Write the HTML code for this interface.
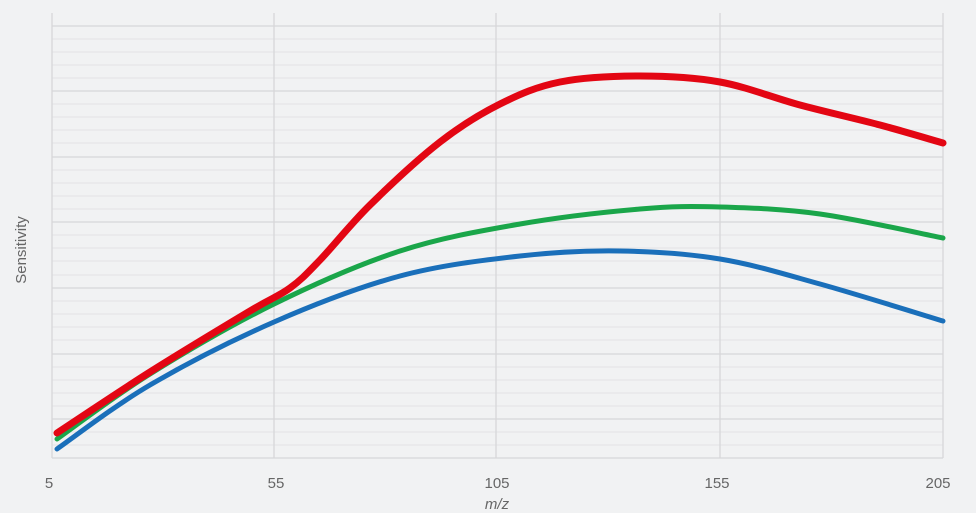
<!DOCTYPE html>
<html><head><meta charset="utf-8"><style>
html,body{margin:0;padding:0;background:#f1f2f3;}
svg{display:block;font-family:"Liberation Sans",sans-serif;}
</style></head><body>
<svg width="976" height="513" viewBox="0 0 976 513">
<rect width="976" height="513" fill="#f1f2f3"/>
<g stroke="#e2e3e5" stroke-width="1">
<line x1="52" x2="943" y1="39" y2="39"/><line x1="52" x2="943" y1="52" y2="52"/><line x1="52" x2="943" y1="65" y2="65"/><line x1="52" x2="943" y1="78" y2="78"/>
<line x1="52" x2="943" y1="104" y2="104"/><line x1="52" x2="943" y1="117" y2="117"/><line x1="52" x2="943" y1="130" y2="130"/><line x1="52" x2="943" y1="143" y2="143"/>
<line x1="52" x2="943" y1="170" y2="170"/><line x1="52" x2="943" y1="183" y2="183"/><line x1="52" x2="943" y1="196" y2="196"/><line x1="52" x2="943" y1="209" y2="209"/>
<line x1="52" x2="943" y1="235" y2="235"/><line x1="52" x2="943" y1="248" y2="248"/><line x1="52" x2="943" y1="261" y2="261"/><line x1="52" x2="943" y1="275" y2="275"/>
<line x1="52" x2="943" y1="301" y2="301"/><line x1="52" x2="943" y1="314" y2="314"/><line x1="52" x2="943" y1="327" y2="327"/><line x1="52" x2="943" y1="340" y2="340"/>
<line x1="52" x2="943" y1="367" y2="367"/><line x1="52" x2="943" y1="380" y2="380"/><line x1="52" x2="943" y1="393" y2="393"/><line x1="52" x2="943" y1="406" y2="406"/>
<line x1="52" x2="943" y1="432" y2="432"/><line x1="52" x2="943" y1="445" y2="445"/>
</g>
<g stroke="#d6d7d9" stroke-width="1.3">
<line x1="52" x2="943" y1="26" y2="26"/><line x1="52" x2="943" y1="91" y2="91"/><line x1="52" x2="943" y1="157" y2="157"/><line x1="52" x2="943" y1="222" y2="222"/><line x1="52" x2="943" y1="288" y2="288"/><line x1="52" x2="943" y1="354" y2="354"/><line x1="52" x2="943" y1="419" y2="419"/>
<line x1="52" x2="943" y1="458" y2="458"/>
<line x1="52" x2="52" y1="13" y2="458"/><line x1="274" x2="274" y1="13" y2="458"/><line x1="496" x2="496" y1="13" y2="458"/><line x1="720" x2="720" y1="13" y2="458"/><line x1="943" x2="943" y1="13" y2="458"/>
</g>
<g fill="none" stroke-linecap="round" stroke-linejoin="round">
<path id="b" stroke="#1a6fba" stroke-width="5"/>
<path id="g" stroke="#1aa64a" stroke-width="5"/>
<path id="r" stroke="#e30613" stroke-width="7"/>
</g>
<g fill="#666" font-size="15" text-anchor="middle">
<text x="49" y="488">5</text>
<text x="276" y="488">55</text>
<text x="497" y="488">105</text>
<text x="717" y="488">155</text>
<text x="938" y="488">205</text>
<text x="497" y="509" font-style="italic">m/z</text>
<text transform="translate(26,250) rotate(-90)">Sensitivity</text>
</g>
</svg>
<script>
function cr(p){var d="M"+p[0][0]+","+p[0][1];for(var i=0;i<p.length-1;i++){var p0=p[i-1]||p[i],p1=p[i],p2=p[i+1],p3=p[i+2]||p2;
d+=" C"+(p1[0]+(p2[0]-p0[0])/6)+","+(p1[1]+(p2[1]-p0[1])/6)+" "+(p2[0]-(p3[0]-p1[0])/6)+","+(p2[1]-(p3[1]-p1[1])/6)+" "+p2[0]+","+p2[1];}return d;}
var R=[[57,433],[150,372],[250,311],[290,288],[320,260],[370,205],[440,142],[500,104],[560,82],[640,76],[720,82],[800,105],[880,125],[943,143]];
var G=[[57,439],[150,374],[274,304],[400,251],[520,224],[640,209],[720,207],[820,214],[943,238]];
var B=[[57,449],[150,385],[274,322],[400,276],[520,256],[620,251],[720,259],[820,284],[943,321]];
document.getElementById("r").setAttribute("d",cr(R));
document.getElementById("g").setAttribute("d",cr(G));
document.getElementById("b").setAttribute("d",cr(B));
</script>
</body></html>
